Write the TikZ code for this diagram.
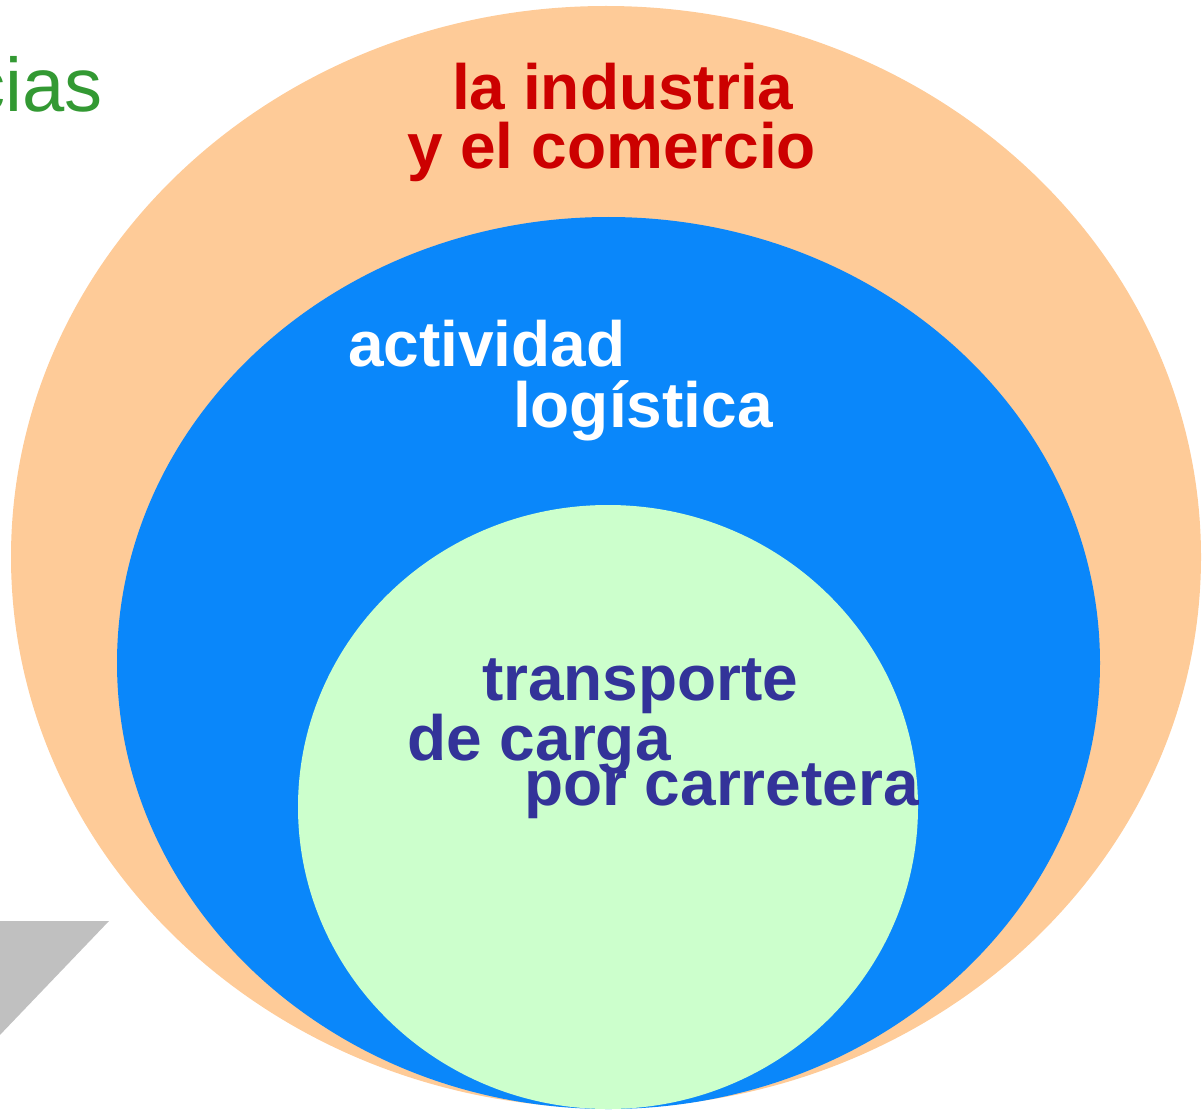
\documentclass[tikz,border=0pt]{standalone}
\usepackage{fontspec}
\setmainfont{Liberation Sans}
\definecolor{peach}{HTML}{FECB98}
\definecolor{midblue}{HTML}{0A87FA}
\definecolor{palegreen}{HTML}{CCFFCC}
\definecolor{darkred}{HTML}{CC0000}
\definecolor{navy}{HTML}{333399}
\definecolor{leafgreen}{HTML}{339933}
\definecolor{lightgray}{HTML}{C0C0C0}
\tikzset{
  lbl/.style={inner sep=0pt, outer sep=0pt, anchor=base west, font=\fontsize{64}{64}\selectfont\bfseries},
}
\begin{document}
\begin{tikzpicture}[x=1pt,y=-1pt]
\useasboundingbox (0,0) rectangle (1202,1110);
% gray partial shape
\fill[lightgray] (-2,921) -- (109,921) -- (-2,1037) -- cycle;
% nested ellipses
\fill[peach] (606,557) ellipse [x radius=595, y radius=551];
\fill[midblue] (608.5,663) ellipse [x radius=491.5, y radius=446];
\fill[palegreen] (608,807) ellipse [x radius=310, y radius=302];
% texts
\node[inner sep=0pt, anchor=base east, text=leafgreen, font=\fontsize{76}{76}\selectfont] (cias) at (102.5,112) {cias};
\node[lbl, text=darkred] (ind1) at (452,110) {la industria};
\node[lbl, text=darkred] (ind2) at (407,169) {y el comercio};
\node[lbl, text=white] (log1) at (348,366) {actividad};
\node[lbl, text=white] (log2) at (513,427) {logística};
\node[lbl, text=navy] (tr1) at (482,700) {transporte};
\node[lbl, text=navy] (tr2) at (407.5,760) {de carga};
\node[lbl, text=navy] (tr3) at (524,805) {por carretera};
\end{tikzpicture}
\end{document}
